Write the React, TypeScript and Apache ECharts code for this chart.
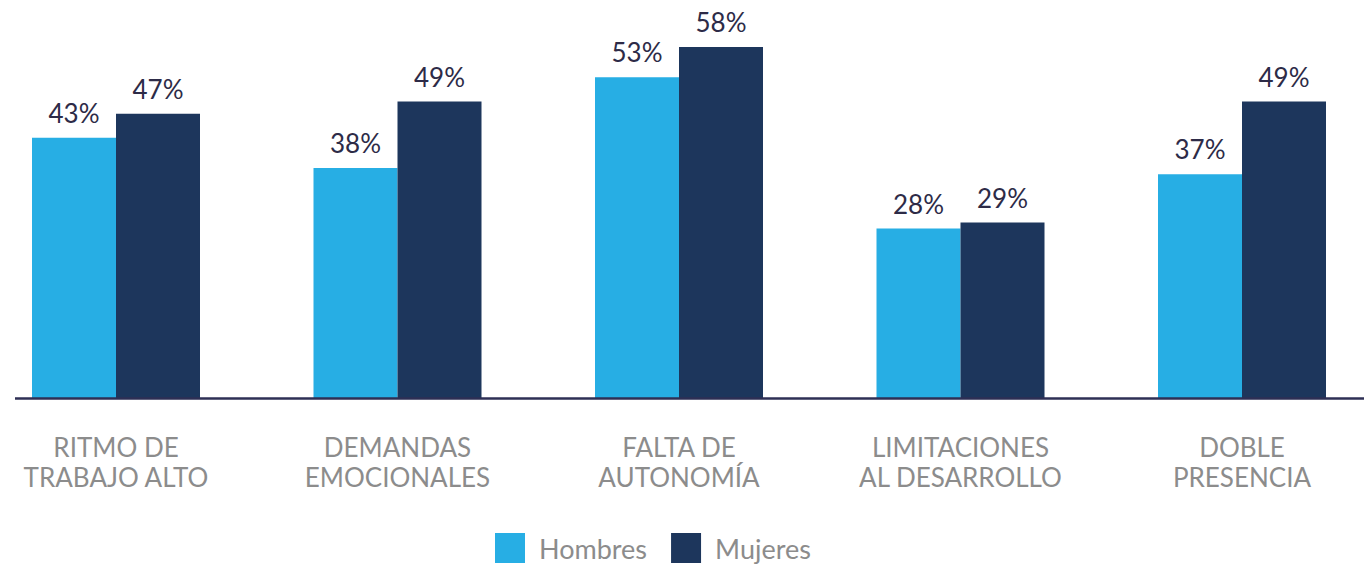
import React, { useEffect, useRef } from "react";
import * as echarts from "echarts";

const categories = [
  "RITMO DE\nTRABAJO ALTO",
  "DEMANDAS\nEMOCIONALES",
  "FALTA DE\nAUTONOMÍA",
  "LIMITACIONES\nAL DESARROLLO",
  "DOBLE\nPRESENCIA",
];
const hombres = [43, 38, 53, 28, 37];
const mujeres = [47, 49, 58, 29, 49];
const seriesNames = ["Hombres", "Mujeres"];

const FONT = "Lato, 'Open Sans', sans-serif";

export default function App() {
  const ref = useRef<HTMLDivElement>(null);
  useEffect(() => {
    if (!ref.current) return;
    const chart = echarts.init(ref.current, undefined, { renderer: "svg" });
    const label = {
      show: true,
      position: "top" as const,
      distance: 12,
      formatter: "{c}%",
      color: "#2d2b47",
      fontSize: 26,
      fontFamily: FONT,
    };
    chart.setOption({
      animation: false,
      textStyle: { fontFamily: FONT },
      grid: { left: 116, right: 122, top: 35, bottom: 169, containLabel: false },
      legend: {
        data: seriesNames,
        top: 528,
        left: 490,
        itemWidth: 30,
        itemHeight: 30,
        itemGap: 24,
        icon: "rect",
        textStyle: { color: "#8c8c8c", fontSize: 27, fontFamily: FONT, padding: [0, 0, 0, 9] },
      },
      xAxis: {
        type: "category",
        data: categories,
        boundaryGap: false,
        axisLine: { show: false },
        axisTick: { show: false },
        axisLabel: {
          color: "#8c8c8c",
          fontSize: 26,
          lineHeight: 30,
          margin: 34,
          fontFamily: FONT,
          interval: 0,
        },
      },
      yAxis: {
        type: "value",
        min: 0,
        max: 60,
        show: false,
        splitLine: { show: false },
      },
      graphic: [
        {
          type: "line",
          shape: { x1: 15, y1: 398.5, x2: 1364, y2: 398.5 },
          style: { stroke: "#2e2f55", lineWidth: 2.5 },
          z: 10,
        },
      ],
      series: [
        {
          name: seriesNames[0],
          type: "bar",
          data: hombres,
          barWidth: 84,
          barGap: "0%",
          itemStyle: { color: "#27aee4" },
          label,
        },
        {
          name: seriesNames[1],
          type: "bar",
          data: mujeres,
          barWidth: 84,
          barGap: "0%",
          itemStyle: { color: "#1d365c" },
          label,
        },
      ],
    });
    return () => chart.dispose();
  }, []);
  return <div ref={ref} style={{ width: 1364, height: 567, position: "absolute", left: 0, top: 0 }} />;
}
